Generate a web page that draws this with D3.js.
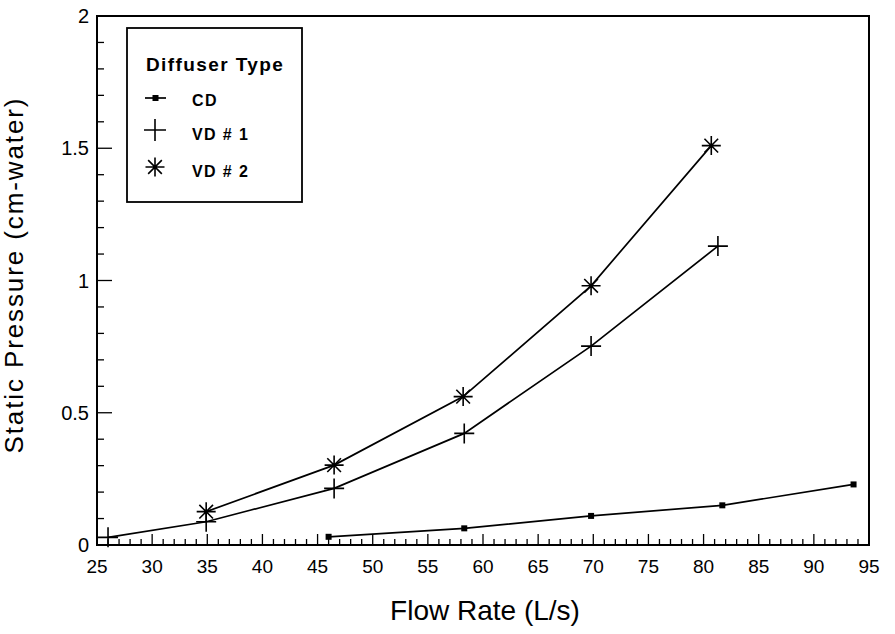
<!DOCTYPE html>
<html>
<head>
<meta charset="utf-8">
<script src="https://cdn.jsdelivr.net/npm/d3@7"></script>
<style>
  html, body { margin: 0; padding: 0; background: #fff; }
  svg { display: block; font-family: "Liberation Sans", Arial, Helvetica, sans-serif; }
</style>
</head>
<body>
<svg id="chart" width="895" height="634"></svg>
<script>
// ---- data ----
const seriesNames = ["CD", "VD # 1", "VD # 2"];
const cdFlow = [46.0, 58.3, 69.8, 81.7, 93.6];
const cdPressure = [0.031, 0.063, 0.110, 0.150, 0.229];
const vd1Flow = [26.0, 34.9, 46.5, 58.3, 69.8, 81.3];
const vd1Pressure = [0.029, 0.088, 0.214, 0.422, 0.752, 1.130];
const vd2Flow = [34.9, 46.5, 58.2, 69.8, 80.7];
const vd2Pressure = [0.126, 0.302, 0.561, 0.980, 1.510];
const xTicks = [25, 30, 35, 40, 45, 50, 55, 60, 65, 70, 75, 80, 85, 90, 95];
const yTicks = [0, 0.5, 1, 1.5, 2];
const yTickLabels = ["0", "0.5", "1", "1.5", "2"];

const svg = d3.select("#chart");
const L = 97, R = 869, T = 16, B = 545;
const x = d3.scaleLinear().domain([25, 95]).range([L, R]);
const y = d3.scaleLinear().domain([0, 2]).range([B, T]);

// frame
svg.append("rect").attr("x", L).attr("y", T).attr("width", R - L).attr("height", B - T)
  .attr("fill", "none").attr("stroke", "#000").attr("stroke-width", 2);

// x ticks (inward)
const xMinor = d3.range(25, 96, 1);
svg.append("g").selectAll("line").data(xMinor).join("line")
  .attr("x1", d => x(d)).attr("x2", d => x(d))
  .attr("y1", B).attr("y2", d => B - (d % 5 === 0 ? 11 : 6))
  .attr("stroke", "#000").attr("stroke-width", 1.3);
svg.append("g").selectAll("text").data(xTicks).join("text")
  .attr("x", d => x(d)).attr("y", 573)
  .attr("text-anchor", "middle").attr("font-size", 19).attr("fill", "#000")
  .text(d => d);

// y ticks (inward)
const yMinor = d3.range(0, 21).map(i => i / 10);
svg.append("g").selectAll("line").data(yMinor).join("line")
  .attr("x1", L).attr("x2", (d, i) => L + (i % 5 === 0 ? 15 : 7))
  .attr("y1", d => y(d)).attr("y2", d => y(d))
  .attr("stroke", "#000").attr("stroke-width", 1.3);
svg.append("g").selectAll("text").data(yTicks).join("text")
  .attr("x", 89).attr("y", d => y(d) + 7)
  .attr("text-anchor", "end").attr("font-size", 20).attr("fill", "#000")
  .text((d, i) => yTickLabels[i]);

// axis titles
svg.append("text").attr("x", 485).attr("y", 620).attr("text-anchor", "middle")
  .attr("font-size", 28).attr("fill", "#000").text("Flow Rate (L/s)");
svg.append("text").attr("transform", "translate(23,276) rotate(-90)")
  .attr("text-anchor", "middle").attr("font-size", 26).attr("fill", "#000")
  .attr("textLength", 355).attr("lengthAdjust", "spacing")
  .text("Static Pressure (cm-water)");

// lines
const line = d3.line().x(d => x(d[0])).y(d => y(d[1]));
const cd = cdFlow.map((f, i) => [f, cdPressure[i]]);
const vd1 = vd1Flow.map((f, i) => [f, vd1Pressure[i]]);
const vd2 = vd2Flow.map((f, i) => [f, vd2Pressure[i]]);
[cd, vd1, vd2].forEach(s => {
  svg.append("path").datum(s).attr("d", line)
    .attr("fill", "none").attr("stroke", "#000").attr("stroke-width", 1.7);
});

// markers
function square(g, cx, cy, s) {
  g.append("rect").attr("x", cx - s / 2).attr("y", cy - s / 2).attr("width", s).attr("height", s).attr("fill", "#000");
}
function plus(g, cx, cy, h) {
  g.append("path").attr("d", `M${cx - h},${cy}H${cx + h}M${cx},${cy - h}V${cy + h}`)
    .attr("stroke", "#000").attr("stroke-width", 1.6).attr("fill", "none");
}
function star(g, cx, cy, h) {
  const d = h * 0.72;
  g.append("path").attr("d",
    `M${cx - h},${cy}H${cx + h}M${cx},${cy - h}V${cy + h}M${cx - d},${cy - d}L${cx + d},${cy + d}M${cx - d},${cy + d}L${cx + d},${cy - d}`)
    .attr("stroke", "#000").attr("stroke-width", 1.6).attr("fill", "none");
}
const mg = svg.append("g");
cd.forEach(p => square(mg, x(p[0]), y(p[1]), 6));
vd1.forEach(p => plus(mg, x(p[0]), y(p[1]), 10));
vd2.forEach(p => star(mg, x(p[0]), y(p[1]), 9.5));

// legend
const lg = svg.append("g");
lg.append("rect").attr("x", 127).attr("y", 28).attr("width", 175).attr("height", 174)
  .attr("fill", "#fff").attr("stroke", "#000").attr("stroke-width", 1.8);
lg.append("text").attr("x", 146).attr("y", 71).attr("font-size", 19).attr("font-weight", "bold")
  .attr("letter-spacing", 1.4).attr("fill", "#000").text("Diffuser Type");
const legY = [98, 130, 167];
const legTextY = [106, 140, 177];
lg.append("line").attr("x1", 145).attr("x2", 166).attr("y1", legY[0]).attr("y2", legY[0])
  .attr("stroke", "#000").attr("stroke-width", 1.7);
square(lg, 155.5, legY[0], 6);
plus(lg, 155, legY[1], 11);
star(lg, 155, legY[2], 9.5);
lg.selectAll("text.item").data(seriesNames).join("text").attr("class", "item")
  .attr("x", 192).attr("y", (d, i) => legTextY[i])
  .attr("font-size", 16).attr("font-weight", "bold").attr("letter-spacing", 1.4)
  .attr("fill", "#000").text(d => d);
</script>
</body>
</html>
